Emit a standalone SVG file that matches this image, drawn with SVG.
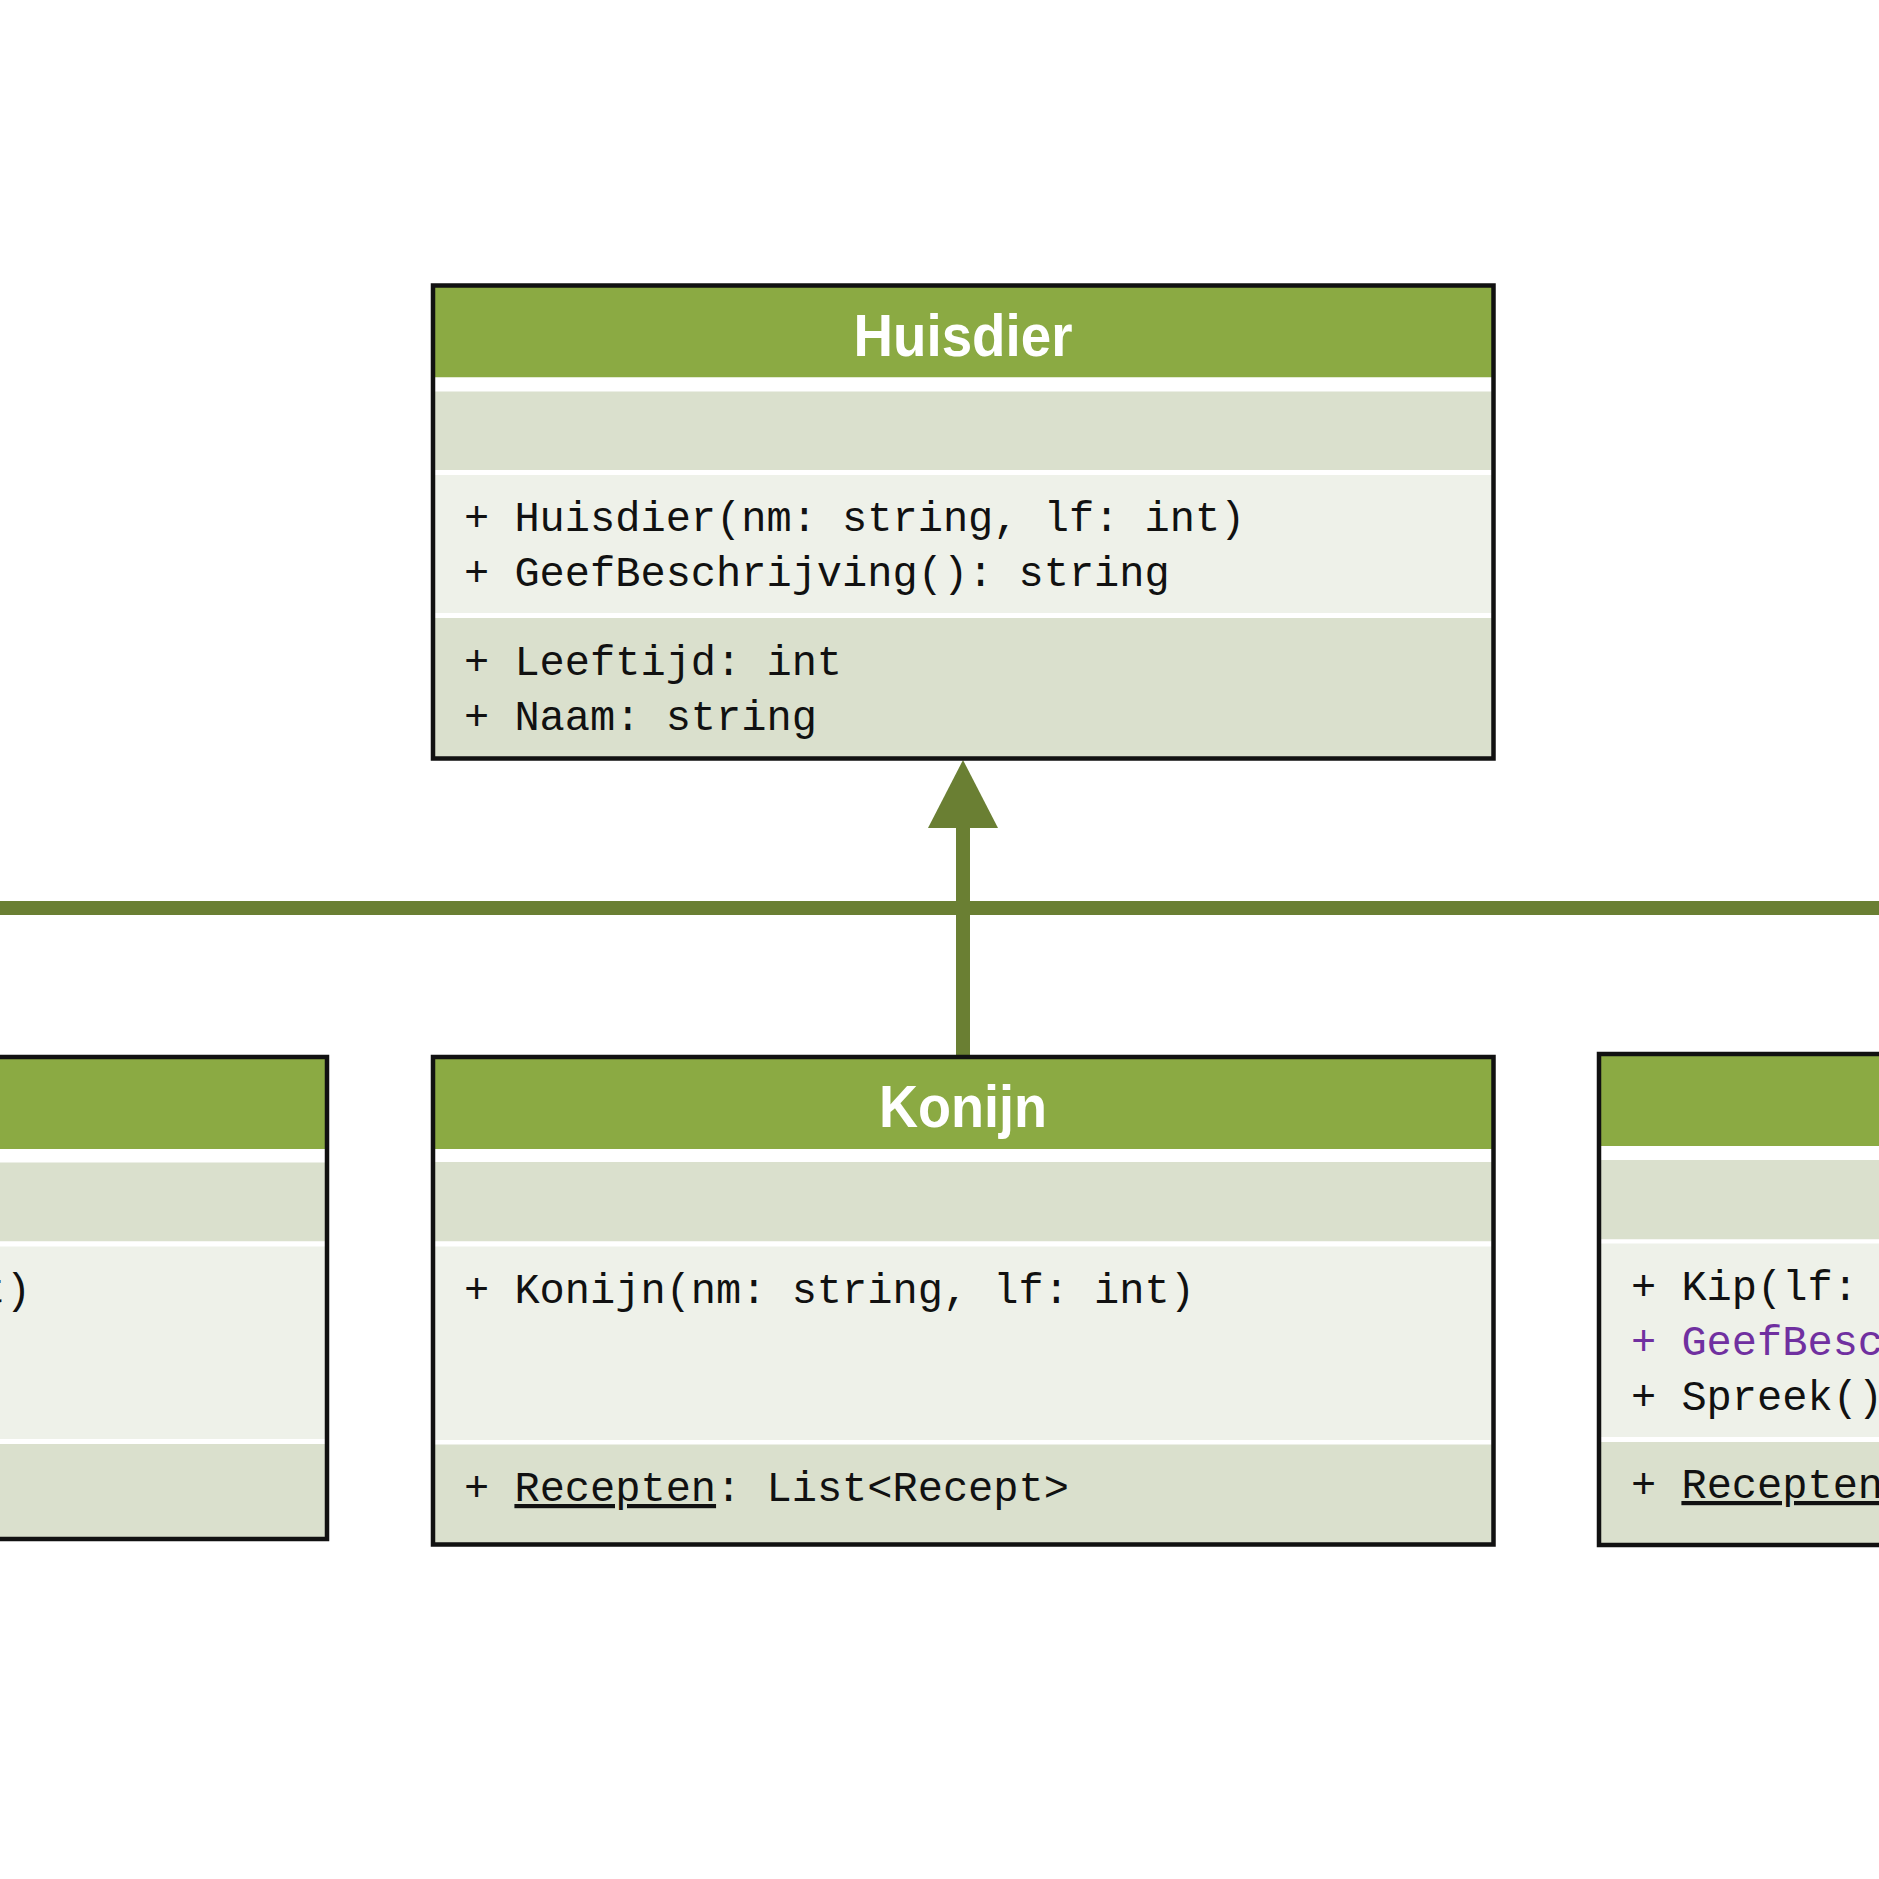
<svg xmlns="http://www.w3.org/2000/svg" width="1879" height="1879" viewBox="0 0 1879 1879">
<style>
.hdr{fill:#8BAA43}
.dark{fill:#DAE0CD}
.light{fill:#EEF1E9}
.gap{fill:#FFFFFF}
.frame{fill:none;stroke:#111111;stroke-width:4.5}
.title{font-family:"Liberation Sans",Arial,sans-serif;font-weight:bold;font-size:60px;fill:#FFFFFF;text-anchor:middle}
.mono{font-family:"Liberation Mono","DejaVu Sans Mono",monospace;font-size:42px;fill:#111111}
.virt{fill:#7030A0}
.ul{text-decoration:underline}
.conn{stroke:#6A7F33;stroke-width:14;fill:none}
.head{fill:#6A7F33}
</style>
<rect x="0" y="0" width="1879" height="1879" fill="#FFFFFF"/>

<g id="connectors">
  <line class="conn" x1="0" y1="908" x2="1879" y2="908"/>
  <line class="conn" x1="963" y1="826" x2="963" y2="1057"/>
  <polygon class="head" points="963,760 928,828 998,828"/>
</g>

<g id="huisdier">
  <rect class="hdr" x="433" y="285.5" width="1060.5" height="92"/>
  <rect class="gap" x="433" y="377.5" width="1060.5" height="14"/>
  <rect class="dark" x="433" y="391.5" width="1060.5" height="78.5"/>
  <rect class="gap" x="433" y="470" width="1060.5" height="5"/>
  <rect class="light" x="433" y="475" width="1060.5" height="138"/>
  <rect class="gap" x="433" y="613" width="1060.5" height="5"/>
  <rect class="dark" x="433" y="618" width="1060.5" height="140.5"/>
  <rect class="frame" x="433" y="285.5" width="1060.5" height="473"/>
  <text class="title" x="963" y="356" textLength="219" lengthAdjust="spacingAndGlyphs">Huisdier</text>
  <text class="mono" x="464" y="531">+ Huisdier(nm: string, lf: int)</text>
  <text class="mono" x="464" y="586">+ GeefBeschrijving(): string</text>
  <text class="mono" x="464" y="675">+ Leeftijd: int</text>
  <text class="mono" x="464" y="730">+ Naam: string</text>
</g>

<g id="konijn">
  <rect class="hdr" x="433" y="1057" width="1060.5" height="92"/>
  <rect class="gap" x="433" y="1149" width="1060.5" height="13"/>
  <rect class="dark" x="433" y="1162" width="1060.5" height="79.5"/>
  <rect class="gap" x="433" y="1241.5" width="1060.5" height="5"/>
  <rect class="light" x="433" y="1246.5" width="1060.5" height="193.5"/>
  <rect class="gap" x="433" y="1440" width="1060.5" height="4.5"/>
  <rect class="dark" x="433" y="1444.5" width="1060.5" height="100"/>
  <rect class="frame" x="433" y="1057" width="1060.5" height="487.5"/>
  <text class="title" x="963" y="1127" textLength="168" lengthAdjust="spacingAndGlyphs">Konijn</text>
  <text class="mono" x="464" y="1303">+ Konijn(nm: string, lf: int)</text>
  <text class="mono" x="464" y="1501">+ <tspan class="ul">Recepten</tspan>: List&lt;Recept&gt;</text>
</g>

<g id="left-class">
  <rect class="hdr" x="-734" y="1057" width="1061" height="92"/>
  <rect class="gap" x="-734" y="1149" width="1061" height="13.5"/>
  <rect class="dark" x="-734" y="1162.5" width="1061" height="79"/>
  <rect class="gap" x="-734" y="1241.5" width="1061" height="5"/>
  <rect class="light" x="-734" y="1246.5" width="1061" height="192.5"/>
  <rect class="gap" x="-734" y="1439" width="1061" height="5"/>
  <rect class="dark" x="-734" y="1444" width="1061" height="95"/>
  <rect class="frame" x="-734" y="1057" width="1061" height="482"/>
  <text class="mono" x="31" y="1303" text-anchor="end">+ Hond(nm: string, lf: int)</text>
</g>

<g id="kip">
  <rect class="hdr" x="1599" y="1054" width="1061" height="92"/>
  <rect class="gap" x="1599" y="1146" width="1061" height="14"/>
  <rect class="dark" x="1599" y="1160" width="1061" height="79.5"/>
  <rect class="gap" x="1599" y="1239.5" width="1061" height="4"/>
  <rect class="light" x="1599" y="1243.5" width="1061" height="193.5"/>
  <rect class="gap" x="1599" y="1437" width="1061" height="5"/>
  <rect class="dark" x="1599" y="1442" width="1061" height="103"/>
  <rect class="frame" x="1599" y="1054" width="1061" height="491"/>
  <text class="mono" x="1631" y="1300">+ Kip(lf: int)</text>
  <text class="mono virt" x="1631" y="1355">+ GeefBeschrijving(): string</text>
  <text class="mono" x="1631" y="1410">+ Spreek(): string</text>
  <text class="mono" x="1631" y="1498">+ <tspan class="ul">Recepten</tspan>: List&lt;Recept&gt;</text>
</g>
</svg>
